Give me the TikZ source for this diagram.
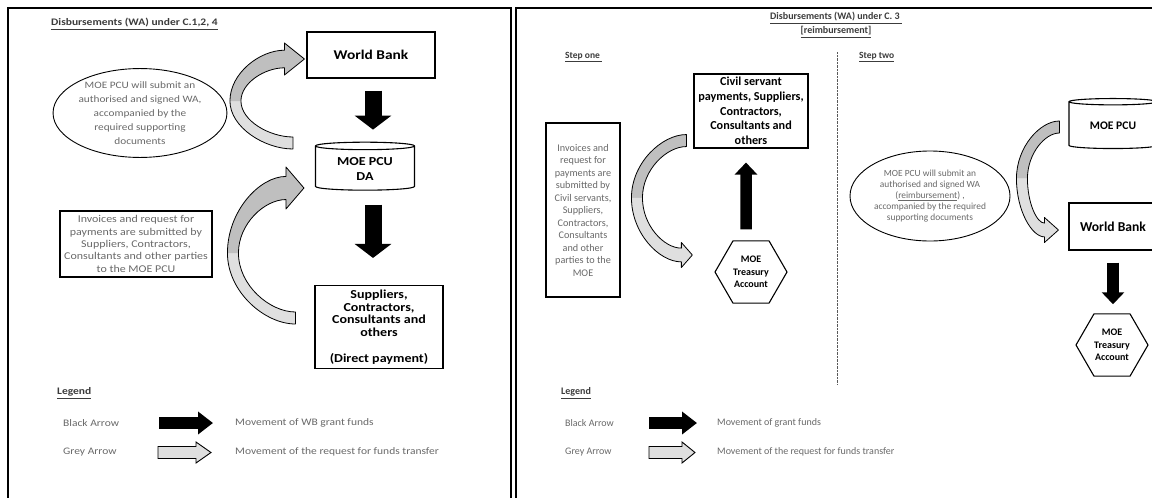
\documentclass[tikz,border=0pt]{standalone}
\usepackage{fontspec}
\setmainfont{Carlito}
\newfontfamily\wide{Carlito}[FakeStretch=1.15]
\usetikzlibrary{shapes.geometric,arrows.meta,positioning,calc}

\definecolor{txtgrey}{RGB}{105,105,105}
\definecolor{headgrey}{RGB}{60,60,60}

\newcommand{\sz}[2]{\fontsize{#1}{#2}\selectfont}

% bent grey arrow: tail, tip, bulge, sign (1 = tip above tail), head half width, head length
\newcommand{\bentarrow}[6]{%
  \coordinate (btm) at ($(#1)!0.5!(#2)$);
  \coordinate (btlx) at ($(#1)+(-#3,0)$);
  \coordinate (btL) at (btlx |- btm);
  \coordinate (btLi) at ($(btL)+(11,0)$);
  \coordinate (btTo) at ($(#1)+(0,#4*6)$);
  \coordinate (btTi) at ($(#1)+(0,-#4*6)$);
  \coordinate (btBo) at ($(#2)+(-#6,-#4*#5*0.55)$);
  \coordinate (btBi) at ($(#2)+(-#6,#4*#5*0.55)$);
  \coordinate (btWo) at ($(#2)+(-#6,-#4*#5)$);
  \coordinate (btWi) at ($(#2)+(-#6,#4*#5)$);
  \coordinate (btcTo) at (btL |- btTo);
  \coordinate (btcTi) at (btLi |- btTi);
  \coordinate (btcBo) at (btL |- btBo);
  \coordinate (btcBi) at (btLi |- btBi);
  \ifnum#4>0 \def\btail{gray!25}\def\bhead{gray!50}\else\def\btail{gray!50}\def\bhead{gray!25}\fi
  \fill[\btail] (btTo) .. controls ($(btcTo)!0.55!(btTo)$) and ($(btL)!0.55!(btcTo)$) .. (btL)
    -- (btLi) .. controls ($(btLi)!0.55!(btcTi)$) and ($(btcTi)!0.55!(btTi)$) .. (btTi) -- cycle;
  \fill[\bhead] (btL) .. controls ($(btL)!0.55!(btcBo)$) and ($(btcBo)!0.55!(btBo)$) .. (btBo)
    -- (btWo) -- (#2) -- (btWi) -- (btBi)
    .. controls ($(btcBi)!0.55!(btBi)$) and ($(btLi)!0.55!(btcBi)$) .. (btLi) -- cycle;
  \draw[line width=0.8pt, line join=round] (btTo)
    .. controls ($(btcTo)!0.55!(btTo)$) and ($(btL)!0.55!(btcTo)$) .. (btL)
    .. controls ($(btL)!0.55!(btcBo)$) and ($(btcBo)!0.55!(btBo)$) .. (btBo)
    -- (btWo) -- (#2) -- (btWi) -- (btBi)
    .. controls ($(btcBi)!0.55!(btBi)$) and ($(btLi)!0.55!(btcBi)$) .. (btLi)
    .. controls ($(btLi)!0.55!(btcTi)$) and ($(btcTi)!0.55!(btTi)$) .. (btTi) -- cycle;
}

\begin{document}
\begin{tikzpicture}[x=1pt, y=-1pt]
\tikzset{
  panel/.style={line width=1.6pt},
  box/.style={draw, line width=1.1pt, align=center, inner sep=2pt},
  note/.style={align=center, text=txtgrey},
  label/.style={anchor=west, inner sep=0pt},
  fundsarrow/.style={line width=17pt, -{Triangle[length=14pt,width=36pt]}},
  smallfunds/.style={line width=11.5pt, -{Triangle[length=12pt,width=22pt]}},
  legendfunds/.style={line width=12pt, -{Triangle[length=15pt,width=22pt]}},
  legendgrey/.style={draw, line width=0.9pt, fill=gray!25, line join=miter}
}
\useasboundingbox (0,0) rectangle (1152,498);
\clip (0,0) rectangle (1152,498);
\fill[white] (0,0) rectangle (1152,498);

% panels
\draw[panel] (8,510) -- (8,8) -- (511,8) -- (511,510);
\draw[panel] (516,510) -- (516,8) -- (1170,8);

% ---------- left: C.1,2,4 ----------
\node[label, font=\wide\bfseries\sz{10}{12}, text=headgrey] (title1) at (51,24) {\underline{Disbursements (WA) under C.1,2, 4}};
\node[box, minimum width=128pt, minimum height=46pt, font=\wide\bfseries\sz{13.4}{16}] (wb1) at (371,55) {World Bank};
\node[ellipse, draw, line width=0.9pt, minimum width=161pt, minimum height=77pt, inner sep=0pt, note, font=\wide\sz{9.8}{14}] (el1) at (140,113)
  {MOE PCU will submit an\\authorised and signed WA,\\accompanied by the\\required supporting\\documents};
\node[cylinder, shape border rotate=90, draw, line width=1.1pt, aspect=0.12, minimum width=99pt, minimum height=48pt,
  align=center, font=\wide\bfseries\sz{12.2}{15}] (da) at (365,169) {MOE PCU\\DA};
\node[box, minimum width=152pt, minimum height=66pt, note, font=\wide\sz{10.4}{12.3}] (inv1) at (136,244)
  {Invoices and request for\\payments are submitted by\\Suppliers, Contractors,\\Consultants and other parties\\to the MOE PCU};
\node[box, minimum width=128pt, minimum height=83pt, font=\wide\bfseries\sz{12.2}{12.8}] (sup1) at (379,327)
  {Suppliers,\\Contractors,\\Consultants and\\others\\[12.8pt](Direct payment)};

\draw[fundsarrow, shorten <=12pt, shorten >=12pt] ($(wb1.south)+(2,0)$) -- ($(wb1.south |- da.north)+(2,0)$);
\draw[fundsarrow, shorten <=14pt, shorten >=27pt] ($(da.south)+(8,0)$) -- ($(da.south |- sup1.north)+(8,0)$);

\coordinate (a1 tail) at ($(da.west)+(-22,-26)$);
\coordinate (a1 tip) at ($(wb1.west)+(-2,4)$);
\bentarrow{a1 tail}{a1 tip}{63}{1}{16}{20}
\coordinate (a2 tail) at ($(sup1.west)+(-19,-9)$);
\coordinate (a2 tip) at ($(da.west)+(-11,19)$);
\bentarrow{a2 tail}{a2 tip}{68}{1}{21}{18}

% legend
\node[label, font=\wide\bfseries\sz{10}{12}, text=headgrey] (leg1) at (57,393) {\underline{Legend}};
\node[label, note, font=\wide\sz{10}{12}] (blk1) at (63,423) {Black Arrow};
\node[label, note, font=\wide\sz{10}{12}] (gry1) at (63,452) {Grey Arrow};
\node[label, note, font=\wide\sz{10}{12}] (blkt1) at (235,423) {Movement of WB grant funds};
\node[label, note, font=\wide\sz{10}{12}] (gryt1) at (235,452) {Movement of the request for funds transfer};
\coordinate (blk1 s) at (159,423);
\coordinate (blk1 e) at (213,423);
\draw[legendfunds] (blk1 s) -- (blk1 e);
\draw[legendgrey] (158,446.5) -- (196,446.5) -- (196,442) -- (211,452.5) -- (196,463) -- (196,458.5) -- (158,458.5) -- cycle;

% ---------- right: C.3 ----------
\node[align=center, font=\bfseries\sz{10}{14}, text=headgrey] (title2) at (836,25)
  {\underline{Disbursements (WA) under C. 3\ }\\\underline{[reimbursement]}};
\node[label, font=\bfseries\sz{9.5}{12}, text=headgrey] (step1) at (565,57) {\underline{Step one\ }};
\node[label, font=\bfseries\sz{9.5}{12}, text=headgrey] (step2) at (859,57) {\underline{Step two}};
\coordinate (div top) at (837,52);
\coordinate (div bot) at (837,385);
\draw[densely dotted, gray!70!black] (div top) -- (div bot);

% step one
\node[box, minimum width=114pt, minimum height=74pt, font=\bfseries\sz{12.2}{14.7}] (civil) at (751,111)
  {Civil servant\\payments, Suppliers,\\Contractors,\\Consultants and\\others};
\node[box, minimum width=74pt, minimum height=174pt, note, font=\sz{10.2}{12.5}] (inv2) at (583,210)
  {Invoices and\\request for\\payments are\\submitted by\\Civil servants,\\Suppliers,\\Contractors,\\Consultants\\and other\\parties to the\\MOE};
\node[regular polygon, regular polygon sides=6, draw, line width=1.1pt, minimum size=72pt, inner sep=0pt,
  align=center, font=\bfseries\sz{10}{12.7}] (hex1) at (751,272) {MOE\\Treasury\\Account};

\draw[smallfunds] ($(hex1.north)+(-5,-11)$) -- ($(civil.south)+(-5,14)$);
\coordinate (a3 tail) at ($(civil.south west)+(-7,-8)$);
\coordinate (a3 tip) at ($(hex1.west)+(-22,-17)$);
\bentarrow{a3 tail}{a3 tip}{55}{-1}{12.5}{11}

% step two
\node[ellipse, draw, line width=0.9pt, minimum width=160pt, minimum height=90pt, inner sep=0pt, note, font=\sz{9.4}{11.2}] (el2) at (930,196)
  {MOE PCU will submit an\\authorised and signed WA\\(\underline{reimbursement}) ,\\accompanied by the required\\supporting documents};
\node[cylinder, shape border rotate=90, draw, line width=1.1pt, aspect=0.12, minimum width=88pt, minimum height=50pt,
  font=\bfseries\sz{11.6}{14}] (pcu) at (1113,126) {MOE PCU};
\node[box, minimum width=88pt, minimum height=47pt, font=\bfseries\sz{13.6}{16}] (wb2) at (1113,226.5) {World Bank};
\node[regular polygon, regular polygon sides=6, draw, line width=1.1pt, minimum size=72pt, inner sep=0pt,
  align=center, font=\bfseries\sz{10}{12.7}] (hex2) at (1112,345) {MOE\\Treasury\\Account};

\draw[smallfunds, shorten <=12pt, shorten >=9pt] (wb2.south) -- (wb2.south |- hex2.north);
\coordinate (a4 tail) at ($(pcu.west)+(-9,1)$);
\coordinate (a4 tip) at ($(wb2.west)+(-10,3.5)$);
\bentarrow{a4 tail}{a4 tip}{43}{-1}{12.5}{14}

% legend
\node[label, font=\bfseries\sz{10}{12}, text=headgrey] (leg2) at (561,393) {\underline{Legend}};
\node[label, note, font=\sz{10}{12}] (blk2) at (565,423) {Black Arrow};
\node[label, note, font=\sz{10}{12}] (gry2) at (565,452) {Grey Arrow};
\node[label, note, font=\sz{10}{12}] (blkt2) at (717,423) {Movement of grant funds};
\node[label, note, font=\sz{10}{12}] (gryt2) at (717,452) {Movement of the request for funds transfer};
\coordinate (blk2 s) at (649,423);
\coordinate (blk2 e) at (697,423);
\draw[legendfunds] (blk2 s) -- (blk2 e);
\draw[legendgrey] (649,446.5) -- (682,446.5) -- (682,442) -- (695,452.5) -- (682,463) -- (682,458.5) -- (649,458.5) -- cycle;
\end{tikzpicture}
\end{document}
